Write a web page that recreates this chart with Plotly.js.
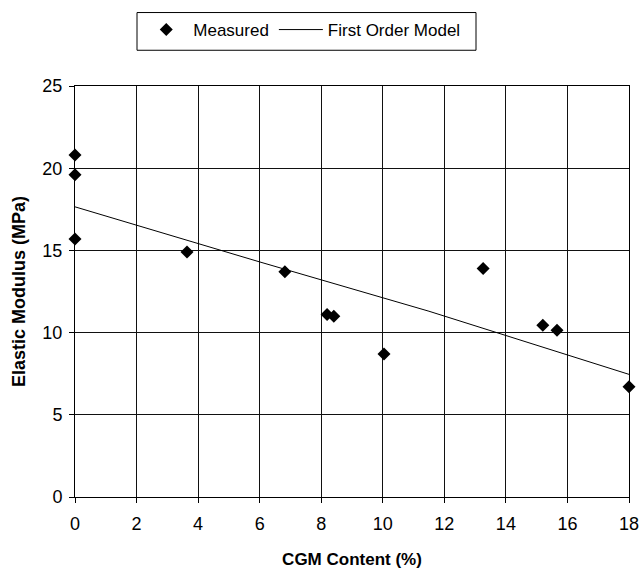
<!DOCTYPE html>
<html>
<head>
<meta charset="utf-8">
<script src="https://cdn.plot.ly/plotly-3.0.1.min.js"></script>
<style>html,body{margin:0;padding:0;background:#fff;}</style>
</head>
<body>
<div id="chart" style="width:642px;height:569px;"></div>
<script>
// Measured data
var measuredX = [0, 0, 0, 3.64, 6.82, 8.19, 8.41, 10.04, 13.26, 15.2, 15.66, 18];
var measuredY = [20.8, 19.6, 15.7, 14.9, 13.7, 11.1, 11.0, 8.7, 13.9, 10.45, 10.15, 6.7];
// First order model line
var modelX = [0, 6, 11.5, 18];
var modelY = [17.65, 14.3, 11.3, 7.46];
var xTicks = [0, 2, 4, 6, 8, 10, 12, 14, 16, 18];
var yTicks = [0, 5, 10, 15, 20, 25];

var font = 'Arial, "Liberation Sans", sans-serif';

var traces = [
  {x: measuredX, y: measuredY, mode: 'markers', type: 'scatter', name: 'Measured',
   marker: {symbol: 'diamond', size: 10, color: '#000'}, cliponaxis: false},
  {x: modelX, y: modelY, mode: 'lines', type: 'scatter', name: 'First Order Model',
   line: {color: '#000', width: 1}}
];

var layout = {
  width: 642, height: 569,
  margin: {l: 75, r: 13, t: 83, b: 72},
  paper_bgcolor: '#fff', plot_bgcolor: '#fff',
  font: {family: font, size: 17, color: '#000'},
  showlegend: true,
  legend: {orientation: 'h', x: 0.116, y: 1.18, xanchor: 'left', yanchor: 'top',
           bgcolor: 'rgba(0,0,0,0)', borderwidth: 0, itemwidth: 44,
           font: {family: font, size: 17, color: '#000'}},
  shapes: [{type: 'rect', xref: 'paper', yref: 'paper',
            x0: (137 - 75) / 554, x1: (476 - 75) / 554,
            y0: (497 - 47) / 414, y1: (497 - 9) / 414,
            line: {color: '#000', width: 1}}],
  xaxis: {range: [0, 18], tickvals: xTicks, ticktext: xTicks.map(String),
          showgrid: true, gridcolor: '#111', gridwidth: 1,
          showline: true, linecolor: '#000', linewidth: 1, mirror: true,
          ticks: 'outside', ticklen: 5, tickcolor: '#000', zeroline: false,
          ticklabelstandoff: 5,
          tickfont: {size: 18},
          title: {text: '<b>CGM Content (%)</b>', font: {size: 17}, standoff: 20}},
  yaxis: {range: [0, 25], tickvals: yTicks, ticktext: yTicks.map(String),
          showgrid: true, gridcolor: '#111', gridwidth: 1,
          showline: true, linecolor: '#000', linewidth: 1, mirror: true,
          ticks: 'outside', ticklen: 5, tickcolor: '#000', zeroline: false,
          ticklabelstandoff: 3,
          tickfont: {size: 18},
          title: {text: '<b>Elastic Modulus (MPa)</b>', font: {size: 18}, standoff: 12}}
};

Plotly.newPlot('chart', traces, layout, {displayModeBar: false, staticPlot: true});
</script>
</body>
</html>
